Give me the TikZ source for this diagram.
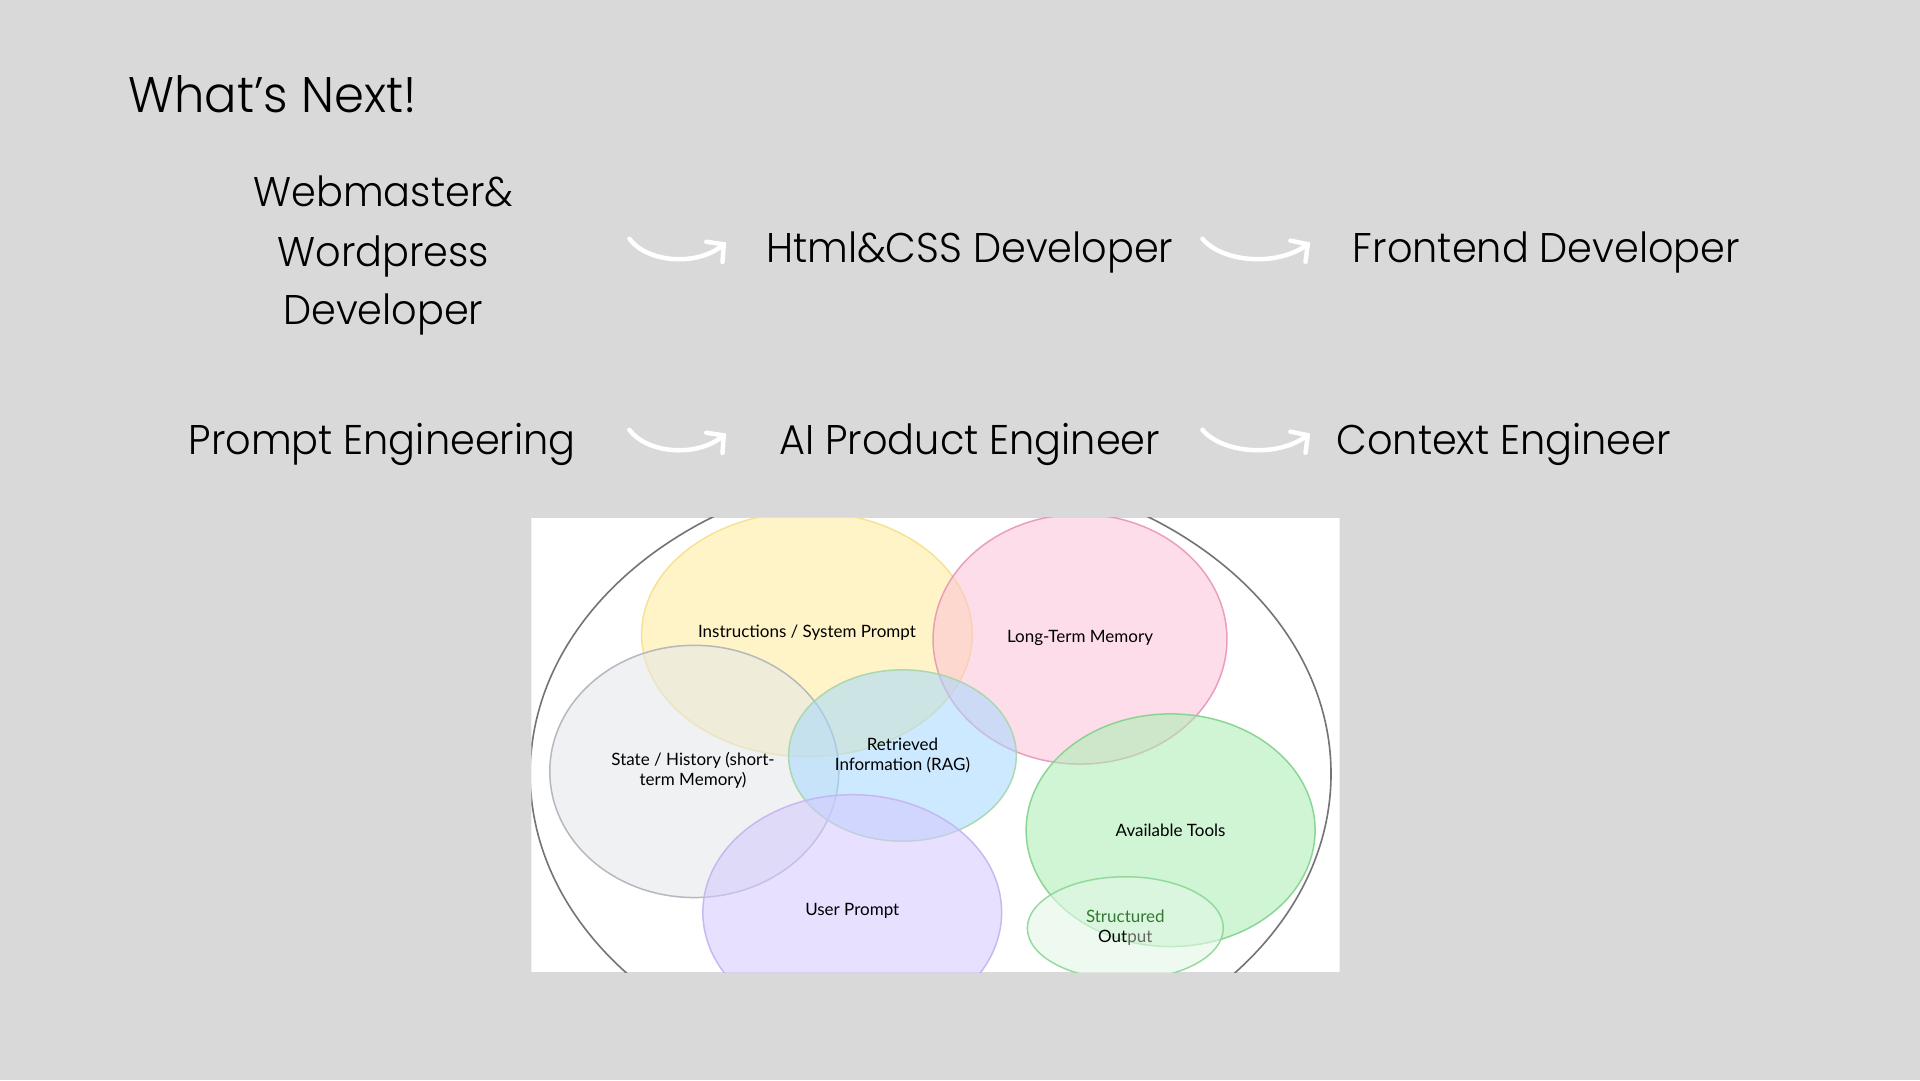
\documentclass[tikz,border=0pt]{standalone}
\usepackage{fontspec}
\setmainfont{Poppins Light}[FakeStretch=0.96]
\newfontfamily\handf{Lato}
\usetikzlibrary{arrows.meta}
\definecolor{bg}{RGB}{217,217,217}
\definecolor{yelF}{HTML}{FFEC99}\definecolor{yelD}{RGB}{245,225,140}
\definecolor{pinF}{HTML}{FCC2D7}\definecolor{pinD}{RGB}{232,150,185}
\definecolor{graF}{HTML}{E3E6EA}\definecolor{graD}{RGB}{175,178,185}
\definecolor{bluF}{HTML}{A5D8FF}\definecolor{bluD}{RGB}{165,215,170}
\definecolor{purF}{HTML}{D5C8FF}\definecolor{purD}{RGB}{195,180,240}
\definecolor{greF}{HTML}{A8EEB2}\definecolor{greD}{RGB}{130,210,140}
\definecolor{souF}{HTML}{E3F8E6}\definecolor{souD}{RGB}{140,215,150}
\definecolor{outl}{RGB}{115,115,120}
\begin{document}
\begin{tikzpicture}[x=1.2245pt,y=-1.2245pt,
  maintxt/.style={font=\fontsize{41.5}{59.4}\selectfont, text=black, inner sep=0pt, anchor=base, align=center},
  flow/.style={white, line width=4.5pt, line cap=round, line join=round,
    -{Straight Barb[length=12pt,width=26pt,line cap=round]}},
  bub/.style={line width=1.5pt, fill opacity=0.55, draw opacity=0.9},
  lab/.style={font=\handf\fontsize{17}{20}\selectfont, text=black, inner sep=0pt, align=center}]
\useasboundingbox (0,0) rectangle (1568,882);
\fill[bg] (0,0) rectangle (1568,882);

% title
\node[font=\fontsize{50}{60}\selectfont, inner sep=0pt, anchor=base west] (title) at (105,91.5) {What’s Next!};

% row 1
\node[maintxt] (web1) at (313,168.8) {Webmaster\&};
\node[maintxt] (web2) at (313,217.3) {Wordpress};
\node[maintxt] (web3) at (313,265.4) {Developer};
\node[maintxt] (html) at (792,214.5) {Html\&CSS Developer};
\node[maintxt] (front) at (1263,214.5) {Frontend Developer};
% row 2
\node[maintxt] (prompt) at (312,371) {Prompt Engineering};
\node[maintxt] (aiprod) at (792,371) {AI Product Engineer};
\node[maintxt] (context) at (1228,371) {Context Engineer};

% arrows
\coordinate (a1s) at (514,195); \coordinate (a1e) at (593,198);
\coordinate (a2s) at (982,195); \coordinate (a2e) at (1070,198);
\coordinate (a3s) at (514,351); \coordinate (a3e) at (593,354);
\coordinate (a4s) at (982,351); \coordinate (a4e) at (1070,354);
\draw[flow] (a1s) .. controls (528,214) and (568,218) .. (a1e);
\draw[flow] (a2s) .. controls (998,214) and (1042,218) .. (a2e);
\draw[flow] (a3s) .. controls (528,370) and (568,374) .. (a3e);
\draw[flow] (a4s) .. controls (998,370) and (1042,374) .. (a4e);

% inset diagram
\begin{scope}
\clip (434,423) rectangle (1094,794);
\fill[white] (434,423) rectangle (1094,794);
\draw[outl, line width=1.6pt] (760,632) ellipse [x radius=327, y radius=250];
\draw[bub, fill=yelF, draw=yelD] (659,518) ellipse [x radius=135, y radius=100];
\draw[bub, fill=pinF, draw=pinD] (882,522) ellipse [x radius=120, y radius=102];
\draw[bub, fill=graF, draw=graD] (567,630) ellipse [x radius=118, y radius=103];
\draw[bub, fill=bluF, draw=bluD] (737,617) ellipse [x radius=93, y radius=70];
\draw[bub, fill=purF, draw=purD] (696,745) ellipse [x radius=122, y radius=96];
\draw[bub, fill=greF, draw=greD] (956,678) ellipse [x radius=118, y radius=95];
\draw[bub, fill=souF, draw=souD, fill opacity=0.6] (919,758) ellipse [x radius=80, y radius=42];
\end{scope}

\node[lab] (lins) at (659,517) {Instructions / System Prompt};
\node[lab] (lltm) at (882,521) {Long-Term Memory};
\node[lab] (lsta) at (566,629) {State / History (short-\\term Memory)};
\node[lab] (lrag) at (737,617) {Retrieved\\Information (RAG)};
\node[lab] (lusr) at (696,744) {User Prompt};
\node[lab] (ltool) at (956,678) {Available Tools};
\node[lab, text=black!55!green!60!gray] (lout) at (919,758) {Structured\\{\color{black}Out}{\color{black!60}put}};
\end{tikzpicture}
\end{document}
